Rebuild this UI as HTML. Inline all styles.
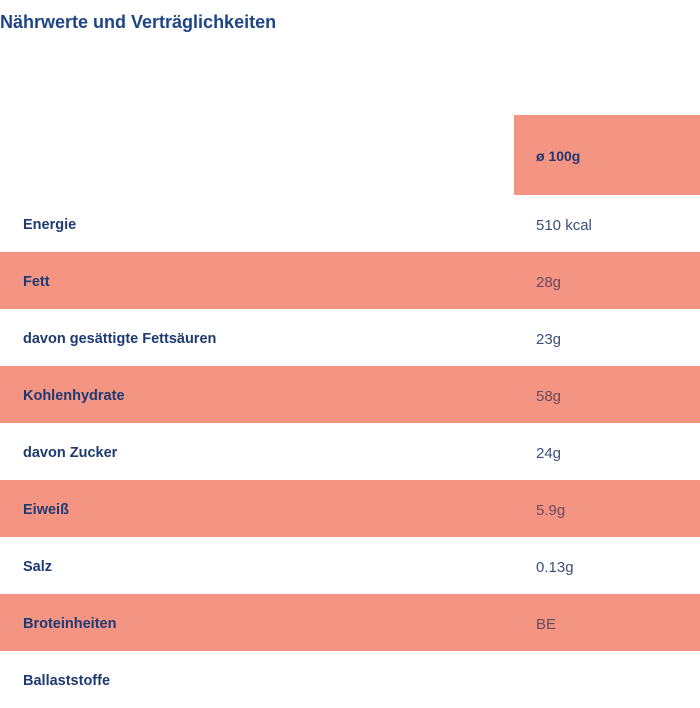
<!DOCTYPE html>
<html><head><style>
body{margin:0;width:700px;height:700px;background:#fff;overflow:hidden;font-family:"Liberation Sans",sans-serif;position:relative}
.t{position:absolute;left:0;top:12px;font-size:18px;font-weight:bold;color:#1d4586}
.h{position:absolute;left:514px;top:115px;width:186px;height:80px;background:#f49483}
.h span{position:absolute;left:22px;top:33px;font-size:14px;font-weight:bold;color:#23366e}
.r{position:absolute;left:0;width:700px;height:57px}
.r.s{background:#f49483}
.r b{position:absolute;left:23px;top:22px;font-size:14.5px;color:#1e3a72}
.r i{position:absolute;left:536px;top:22px;font-size:15px;font-style:normal;color:#3d4f78}
.r.s i{color:#6b4a5a}
</style></head><body>
<div class="t">Nährwerte und Verträglichkeiten</div>
<div class="h"><span>ø 100g</span></div>
<div class="r" style="top:195px"><b>Energie</b><i>510 kcal</i></div>
<div class="r s" style="top:252px"><b>Fett</b><i>28g</i></div>
<div class="r" style="top:309px"><b>davon gesättigte Fettsäuren</b><i>23g</i></div>
<div class="r s" style="top:366px"><b>Kohlenhydrate</b><i>58g</i></div>
<div class="r" style="top:423px"><b>davon Zucker</b><i>24g</i></div>
<div class="r s" style="top:480px"><b>Eiweiß</b><i>5.9g</i></div>
<div class="r" style="top:537px"><b>Salz</b><i>0.13g</i></div>
<div class="r s" style="top:594px"><b>Broteinheiten</b><i>BE</i></div>
<div class="r" style="top:651px"><b>Ballaststoffe</b></div>
</body></html>
